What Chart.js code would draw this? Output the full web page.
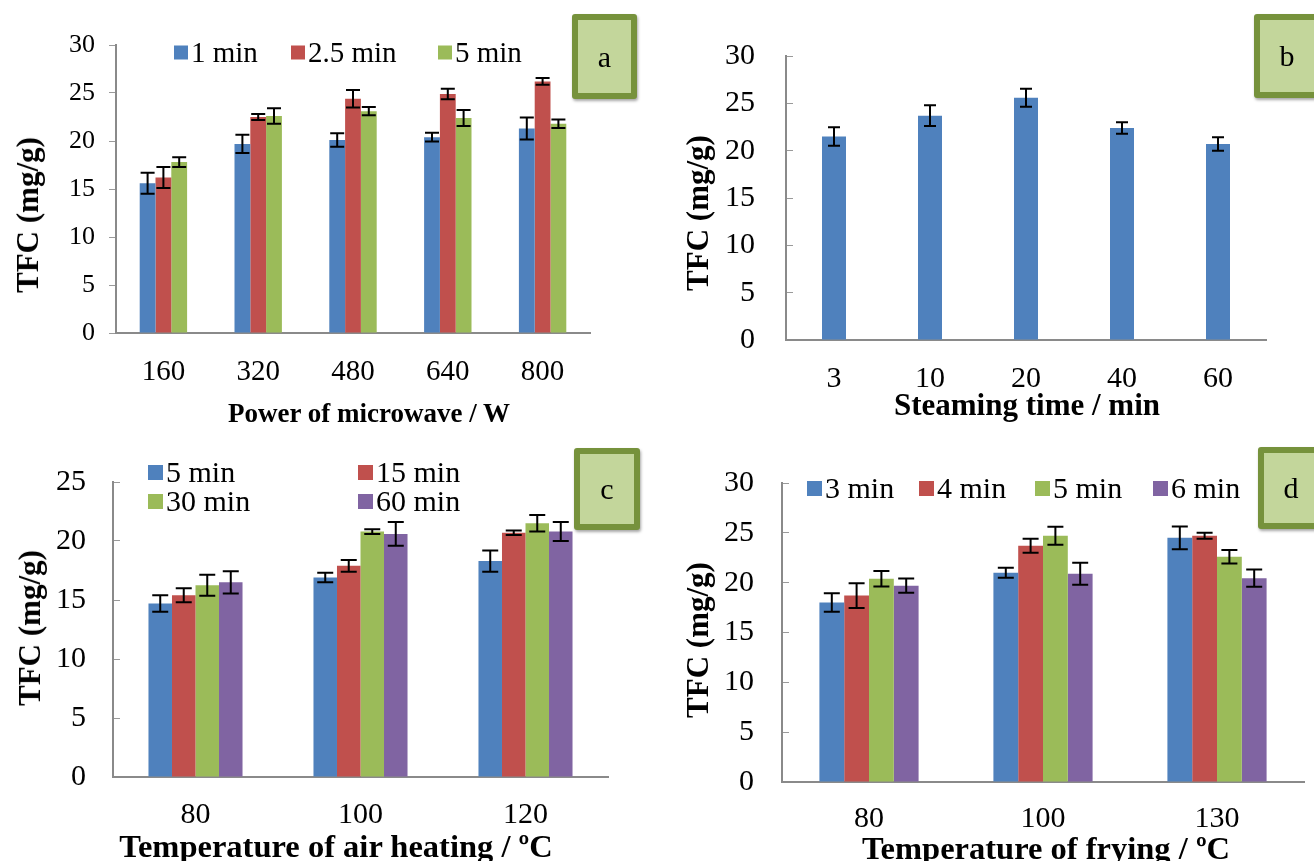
<!DOCTYPE html>
<html>
<head>
<meta charset="utf-8">
<script src="https://cdn.jsdelivr.net/npm/chart.js@4.4.1/dist/chart.umd.min.js"></script>
<style>
body { margin: 0; background: #fff; width: 1314px; height: 861px; overflow: hidden; position: relative; font-family: 'Liberation Serif', serif; }
canvas { position: absolute; }
.txt { position: absolute; white-space: nowrap; color: #000; transform: translate(-50%, -50%); }
.ytitle { transform: translate(-50%, -50%) rotate(-90deg); font-weight: bold; }
.xtitle { font-weight: bold; }
.leg { position: absolute; display: flex; align-items: center; white-space: nowrap; transform: translateY(-50%); color: #000; }
.leg i { display: inline-block; margin-right: 3px; }
.tag { position: absolute; box-sizing: border-box; border: 6px solid #76923c; background: #c3d69b; border-radius: 3px;
       display: flex; align-items: center; justify-content: center; font-size: 30px; box-shadow: 1px 2px 3px rgba(0,0,0,0.35); }
</style>
</head>
<body>
<script>
// colours (Excel 2007 palette)
const BLUE = '#4f81bd', RED = '#c0504d', GREEN = '#9bbb59', PURPLE = '#8064a2';

// (a) microwave
const powerLabels = ['160', '320', '480', '640', '800'];
const mw1 = [15.6, 19.7, 20.1, 20.4, 21.3];
const mw1Err = [1.1, 0.95, 0.7, 0.45, 1.15];
const mw25 = [16.2, 22.5, 24.4, 24.9, 26.2];
const mw25Err = [1.1, 0.3, 0.9, 0.55, 0.35];
const mw5 = [17.8, 22.6, 23.1, 22.4, 21.8];
const mw5Err = [0.5, 0.8, 0.43, 0.83, 0.45];

// (b) steaming
const steamLabels = ['3', '10', '20', '40', '60'];
const steam = [21.5, 23.7, 25.6, 22.4, 20.7];
const steamErr = [0.98, 1.1, 0.95, 0.6, 0.72];

// (c) air heating
const airLabels = ['80', '100', '120'];
const air5 = [14.7, 16.9, 18.3];
const air5Err = [0.7, 0.4, 0.9];
const air15 = [15.4, 17.9, 20.7];
const air15Err = [0.59, 0.5, 0.2];
const air30 = [16.25, 20.8, 21.5];
const air30Err = [0.9, 0.2, 0.7];
const air60 = [16.5, 20.6, 20.8];
const air60Err = [0.94, 1.0, 0.8];

// (d) frying
const fryLabels = ['80', '100', '130'];
const fry3 = [18.0, 21.0, 24.5];
const fry3Err = [0.93, 0.5, 1.14];
const fry4 = [18.7, 23.7, 24.7];
const fry4Err = [1.25, 0.7, 0.3];
const fry5 = [20.4, 24.7, 22.6];
const fry5Err = [0.78, 0.9, 0.68];
const fry6 = [19.7, 20.9, 20.45];
const fry6Err = [0.72, 1.1, 0.86];

Chart.defaults.font.family = "'Liberation Serif', serif";
Chart.defaults.color = '#000';

const errorBars = {
    id: 'errorBars',
    afterDatasetsDraw(chart, args, opts) {
        const ctx = chart.ctx;
        const y = chart.scales.y;
        chart.data.datasets.forEach((ds, i) => {
            const meta = chart.getDatasetMeta(i);
            meta.data.forEach((bar, j) => {
                const v = ds.data[j], e = ds.errors[j];
                const t = y.getPixelForValue(v + e), b = y.getPixelForValue(v - e);
                const c = opts.cap / 2;
                ctx.save();
                ctx.strokeStyle = '#000';
                ctx.lineWidth = 2;
                ctx.beginPath();
                ctx.moveTo(bar.x, t); ctx.lineTo(bar.x, b);
                ctx.moveTo(bar.x - c, t); ctx.lineTo(bar.x + c, t);
                ctx.moveTo(bar.x - c, b); ctx.lineTo(bar.x + c, b);
                ctx.stroke();
                ctx.restore();
            });
        });
    }
};

function addText(text, x, y, size, cls) {
    const d = document.createElement('div');
    d.className = 'txt ' + (cls || '');
    d.style.left = x + 'px';
    d.style.top = y + 'px';
    d.style.fontSize = size + 'px';
    d.textContent = text;
    document.body.appendChild(d);
}

function addLegend(label, color, x, y, sq, size) {
    const d = document.createElement('div');
    d.className = 'leg';
    d.style.left = x + 'px';
    d.style.top = y + 'px';
    d.style.fontSize = size + 'px';
    const i = document.createElement('i');
    i.style.width = sq + 'px';
    i.style.height = sq + 'px';
    i.style.background = color;
    d.appendChild(i);
    d.appendChild(document.createTextNode(label));
    document.body.appendChild(d);
}

function addTag(letter, x, y, w, h) {
    const d = document.createElement('div');
    d.className = 'tag';
    d.style.left = x + 'px';
    d.style.top = y + 'px';
    d.style.width = w + 'px';
    d.style.height = h + 'px';
    d.textContent = letter;
    document.body.appendChild(d);
}

function makePanel(p) {
    const cv = document.createElement('canvas');
    cv.width = p.w; cv.height = p.h;
    cv.style.left = p.left + 'px';
    cv.style.top = p.top + 'px';
    document.body.appendChild(cv);
    new Chart(cv, {
        type: 'bar',
        data: {
            labels: p.labels,
            datasets: p.series.map(s => ({
                label: s.label,
                data: s.data,
                errors: s.err,
                backgroundColor: s.color,
                borderWidth: 0,
                categoryPercentage: p.cat,
                barPercentage: 1
            }))
        },
        options: {
            responsive: false,
            animation: false,
            devicePixelRatio: 1,
            layout: { padding: p.pad },
            plugins: { legend: { display: false }, tooltip: { enabled: false }, errorBars: { cap: p.cap } },
            scales: {
                x: {
                    grid: { display: false, drawTicks: false },
                    border: { display: true, color: '#8a8a8a', width: 2 },
                    ticks: { font: { size: p.xFont }, padding: p.xPad, maxRotation: 0 },
                    afterFit: s => { s.height = p.xH; }
                },
                y: {
                    min: 0, max: p.max,
                    grid: { drawOnChartArea: false, drawTicks: true, tickLength: p.tickLen, color: '#9a9a9a' },
                    border: { display: true, color: '#8a8a8a', width: 2 },
                    ticks: { stepSize: 5, font: { size: p.yFont }, padding: p.yPad },
                    afterFit: s => { s.width = p.yW; }
                }
            }
        },
        plugins: [errorBars]
    });
}

makePanel({
    left: 0, top: 0, w: 657, h: 430, labels: powerLabels, max: 30,
    series: [
        { label: '1 min', data: mw1, err: mw1Err, color: BLUE },
        { label: '2.5 min', data: mw25, err: mw25Err, color: RED },
        { label: '5 min', data: mw5, err: mw5Err, color: GREEN }
    ],
    pad: { left: 0, top: 45, right: 67, bottom: 0 }, yW: 116, xH: 97,
    tickLen: 7, yPad: 14, yFont: 26, xFont: 29, xPad: 22, cat: 0.5, cap: 14
});
makePanel({
    left: 657, top: 0, w: 657, h: 430, labels: steamLabels, max: 30,
    series: [{ label: 'TFC', data: steam, err: steamErr, color: BLUE }],
    pad: { left: 0, top: 49, right: 48, bottom: 0 }, yW: 129, xH: 90,
    tickLen: -7, yPad: 38, yFont: 30, xFont: 30, xPad: 21, cat: 0.25, cap: 12
});
makePanel({
    left: 0, top: 430, w: 657, h: 431, labels: airLabels, max: 25,
    series: [
        { label: '5 min', data: air5, err: air5Err, color: BLUE },
        { label: '15 min', data: air15, err: air15Err, color: RED },
        { label: '30 min', data: air30, err: air30Err, color: GREEN },
        { label: '60 min', data: air60, err: air60Err, color: PURPLE }
    ],
    pad: { left: 0, top: 49, right: 49, bottom: 0 }, yW: 113, xH: 84,
    tickLen: -7, yPad: 34, yFont: 30, xFont: 30, xPad: 20, cat: 0.57, cap: 16
});
makePanel({
    left: 657, top: 430, w: 657, h: 431, labels: fryLabels, max: 30,
    series: [
        { label: '3 min', data: fry3, err: fry3Err, color: BLUE },
        { label: '4 min', data: fry4, err: fry4Err, color: RED },
        { label: '5 min', data: fry5, err: fry5Err, color: GREEN },
        { label: '6 min', data: fry6, err: fry6Err, color: PURPLE }
    ],
    pad: { left: 0, top: 45, right: 10, bottom: 0 }, yW: 125, xH: 79,
    tickLen: -7, yPad: 35, yFont: 30, xFont: 30, xPad: 19, cat: 0.57, cap: 16
});

// axis titles
addText('Power of microwave / W', 369, 413, 27, 'xtitle');
addText('TFC (mg/g)', 28, 215, 31, 'ytitle');
addText('Steaming time / min', 1027, 405, 31, 'xtitle');
addText('TFC (mg/g)', 698, 213, 31, 'ytitle');
addText('Temperature of air heating / ºC', 336, 846, 32.5, 'xtitle');
addText('TFC (mg/g)', 30, 628, 31, 'ytitle');
addText('Temperature of frying / ºC', 1046, 848, 32.5, 'xtitle');
addText('TFC (mg/g)', 698, 640, 31, 'ytitle');

// legends
addLegend('1 min', BLUE, 174, 52, 14, 29);
addLegend('2.5 min', RED, 291, 52, 14, 29);
addLegend('5 min', GREEN, 438, 52, 14, 29);
addLegend('5 min', BLUE, 148, 472, 15, 30);
addLegend('15 min', RED, 358, 472, 15, 30);
addLegend('30 min', GREEN, 148, 501, 15, 30);
addLegend('60 min', PURPLE, 358, 501, 15, 30);
addLegend('3 min', BLUE, 807, 488, 15, 30);
addLegend('4 min', RED, 919, 488, 15, 30);
addLegend('5 min', GREEN, 1035, 488, 15, 30);
addLegend('6 min', PURPLE, 1153, 488, 15, 30);

// panel tags
addTag('a', 572, 14, 65, 85);
addTag('b', 1254, 14, 66, 84);
addTag('c', 574, 448, 66, 82);
addTag('d', 1258, 447, 66, 82);
</script>
</body>
</html>
